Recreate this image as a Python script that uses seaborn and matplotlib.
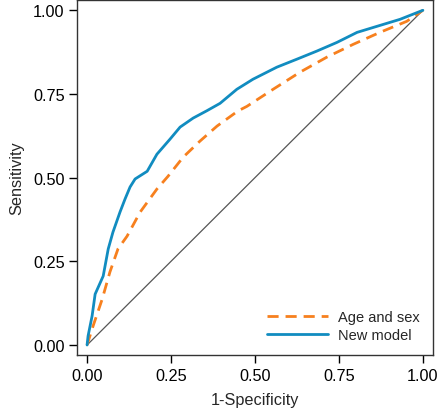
import matplotlib
matplotlib.use('Agg')

import pandas as pd
import matplotlib.pyplot as plt
import seaborn as sns

# --------------------------------------------------
# ROC curve points
# --------------------------------------------------
new_fpr = [0.0, 0.003, 0.015, 0.024, 0.048, 0.063, 0.077, 0.098, 0.113, 0.128,
           0.143, 0.179, 0.208, 0.247, 0.277, 0.316, 0.357, 0.396, 0.446,
           0.494, 0.565, 0.625, 0.684, 0.744, 0.804, 0.863, 0.932, 1.0]
new_tpr = [0.0, 0.027, 0.087, 0.152, 0.206, 0.287, 0.337, 0.397, 0.436, 0.472,
           0.496, 0.519, 0.570, 0.615, 0.651, 0.678, 0.700, 0.722, 0.764,
           0.794, 0.830, 0.854, 0.878, 0.904, 0.934, 0.952, 0.973, 1.0]

age_fpr = [0.0, 0.018, 0.045, 0.068, 0.092, 0.119, 0.158, 0.208, 0.241,
           0.286, 0.336, 0.387, 0.449, 0.476, 0.554, 0.634, 0.714, 0.792,
           0.872, 0.952, 1.0]
age_tpr = [0.0, 0.057, 0.137, 0.218, 0.287, 0.325, 0.397, 0.466, 0.504,
           0.561, 0.609, 0.654, 0.699, 0.713, 0.764, 0.815, 0.860, 0.898,
           0.934, 0.967, 1.0]

ref_line = [0.0, 1.0]

age = pd.DataFrame({"fpr": age_fpr, "tpr": age_tpr})
new = pd.DataFrame({"fpr": new_fpr, "tpr": new_tpr})

sns.set_style("white")
plt.rcParams['font.family'] = ['Liberation Sans', 'DejaVu Sans']

fig = plt.figure(figsize=(4.4, 4.14), dpi=100)
ax = fig.add_axes([0.175, 0.14, 0.809, 0.857])

ax.plot(ref_line, ref_line, color="#555555", linewidth=0.9)
sns.lineplot(data=age, x="fpr", y="tpr", ax=ax, color="#F7801E",
             linewidth=2, linestyle=(0, (4, 2.5)), label="Age and sex",
             sort=False)
sns.lineplot(data=new, x="fpr", y="tpr", ax=ax, color="#118CC0",
             linewidth=2, label="New model", sort=False)

ticks = [0.0, 0.25, 0.5, 0.75, 1.0]
ax.set_xticks(ticks)
ax.set_yticks(ticks)
ax.set_xticklabels(["0.00", "0.25", "0.50", "0.75", "1.00"])
ax.set_yticklabels(["0.00", "0.25", "0.50", "0.75", "1.00"])
ax.set_xlim(-0.03, 1.03)
ax.set_ylim(-0.03, 1.03)

ax.tick_params(axis="both", direction="out", length=6, width=1,
               labelsize=11.7, color="black", labelcolor="black",
               bottom=True, left=True, pad=3)
for s in ax.spines.values():
    s.set_color("#333333")
    s.set_linewidth(1)

ax.set_xlabel("1-Specificity", fontsize=11.7, labelpad=7)
ax.set_ylabel("Sensitivity", fontsize=11.7, labelpad=6)

ax.legend(loc="lower right", frameon=False, fontsize=10.5, handlelength=4.2,
          handletextpad=0.7, borderaxespad=0.5, labelspacing=0.25)

fig.savefig("out.png", dpi=100)
plt.close(fig)
